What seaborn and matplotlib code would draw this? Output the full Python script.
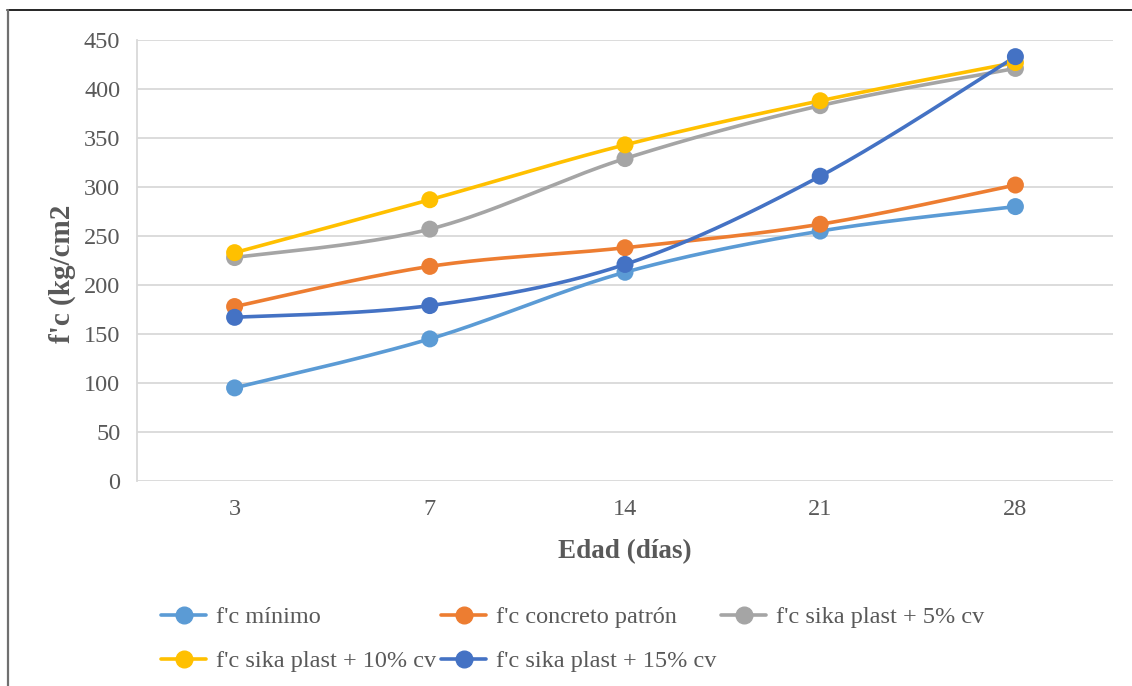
import numpy as np
import pandas as pd
import matplotlib
matplotlib.use("Agg")
import matplotlib.pyplot as plt
from matplotlib.lines import Line2D
import seaborn as sns

# data
edad = ["3", "7", "14", "21", "28"]
fc_minimo = [95, 145, 213, 255, 280]
fc_patron = [178, 219, 238, 262, 302]
fc_sika_5 = [228, 257, 329, 383, 421]
fc_sika_10 = [233, 287, 343, 388, 427]
fc_sika_15 = [167, 179, 221, 311, 433]

series_names = ["f'c mínimo", "f'c concreto patrón", "f'c sika plast + 5% cv",
                "f'c sika plast + 10% cv", "f'c sika plast + 15% cv"]
series_vals = [fc_minimo, fc_patron, fc_sika_5, fc_sika_10, fc_sika_15]
colors = ["#5B9BD5", "#ED7D31", "#A5A5A5", "#FFC000", "#4472C4"]

rows = []
for name, vals in zip(series_names, series_vals):
    for i, v in enumerate(vals):
        rows.append({"pos": i, "edad": edad[i], "serie": name, "fc": v})
df = pd.DataFrame(rows)


def smooth(y, n=40):
    # Excel-like smoothed line (Catmull-Rom via cubic bezier)
    x = np.arange(len(y), dtype=float)
    y = np.asarray(y, dtype=float)
    px = np.concatenate([[x[0]], x, [x[-1]]])
    py = np.concatenate([[y[0]], y, [y[-1]]])
    xs, ys = [], []
    t = np.linspace(0, 1, n)
    for i in range(1, len(px) - 2):
        p0 = np.array([px[i - 1], py[i - 1]])
        p1 = np.array([px[i], py[i]])
        p2 = np.array([px[i + 1], py[i + 1]])
        p3 = np.array([px[i + 2], py[i + 2]])
        c1 = p1 + (p2 - p0) / 6
        c2 = p2 - (p3 - p1) / 6
        b = ((1 - t) ** 3)[:, None] * p1 + (3 * (1 - t) ** 2 * t)[:, None] * c1 \
            + (3 * (1 - t) * t ** 2)[:, None] * c2 + (t ** 3)[:, None] * p2
        xs.extend(b[:, 0]); ys.extend(b[:, 1])
    return np.array(xs), np.array(ys)


sns.set_style("white")
plt.rcParams["font.family"] = ["Liberation Serif", "DejaVu Serif"]

fig = plt.figure(figsize=(11.32, 6.86), dpi=100)
ax = fig.add_axes([137 / 1132, 1 - 481 / 686, (1113 - 137) / 1132, (481 - 40) / 686])

for name, vals, c in zip(series_names, series_vals, colors):
    xs, ys = smooth(vals)
    ax.plot(xs, ys, color=c, lw=2.6, solid_capstyle="round", zorder=2)
sns.scatterplot(data=df, x="pos", y="fc", hue="serie", palette=colors,
                s=150, edgecolor="none", legend=False, ax=ax, zorder=3)

ax.set_xlim(-0.5, 4.5)
ax.set_ylim(0, 450)
ax.set_yticks(range(0, 451, 50))
ax.set_xticks(range(len(edad)))
ax.set_xticklabels(edad)
ax.grid(axis="y", color="#D9D9D9", lw=1.3)
ax.set_axisbelow(True)
for s in ["top", "right", "bottom"]:
    ax.spines[s].set_visible(False)
ax.spines["left"].set_color("#D9D9D9")
ax.spines["left"].set_linewidth(1.3)
ax.tick_params(axis="y", colors="#595959", labelsize=17.5, length=0, pad=12)
ax.tick_params(axis="x", colors="#595959", labelsize=17.5, length=0, pad=13)
ax.set_xlabel("Edad (días)", fontsize=19.5, fontweight="bold", color="#595959", labelpad=14)
ax.set_ylabel("f'c (kg/cm2", fontsize=21, fontweight="bold", color="#595959")
ax.yaxis.set_label_coords(-0.063, 0.47)

handles = [Line2D([0], [0], color=c, lw=2.6, marker="o", markersize=12) for c in colors]
order = [0, 3, 1, 4, 2]
leg = fig.legend([handles[i] for i in order], [series_names[i] for i in order],
                 ncol=3, loc="upper left", bbox_to_anchor=(142 / 1132, 1 - 587 / 686),
                 frameon=False, fontsize=17.5, handlelength=1.85, columnspacing=0.2,
                 handletextpad=0.4, labelspacing=0.9, borderpad=0.3)
for t in leg.get_texts():
    t.set_color("#595959")

# chart frame edges (top and left visible)
fig.add_artist(Line2D([7 / 1132, 1], [1 - 10 / 686, 1 - 10 / 686], color="black", lw=1.2))
fig.add_artist(Line2D([7.5 / 1132, 7.5 / 1132], [0, 1 - 10 / 686], color="#707070", lw=1.6))

fig.savefig("out.png", dpi=100)
